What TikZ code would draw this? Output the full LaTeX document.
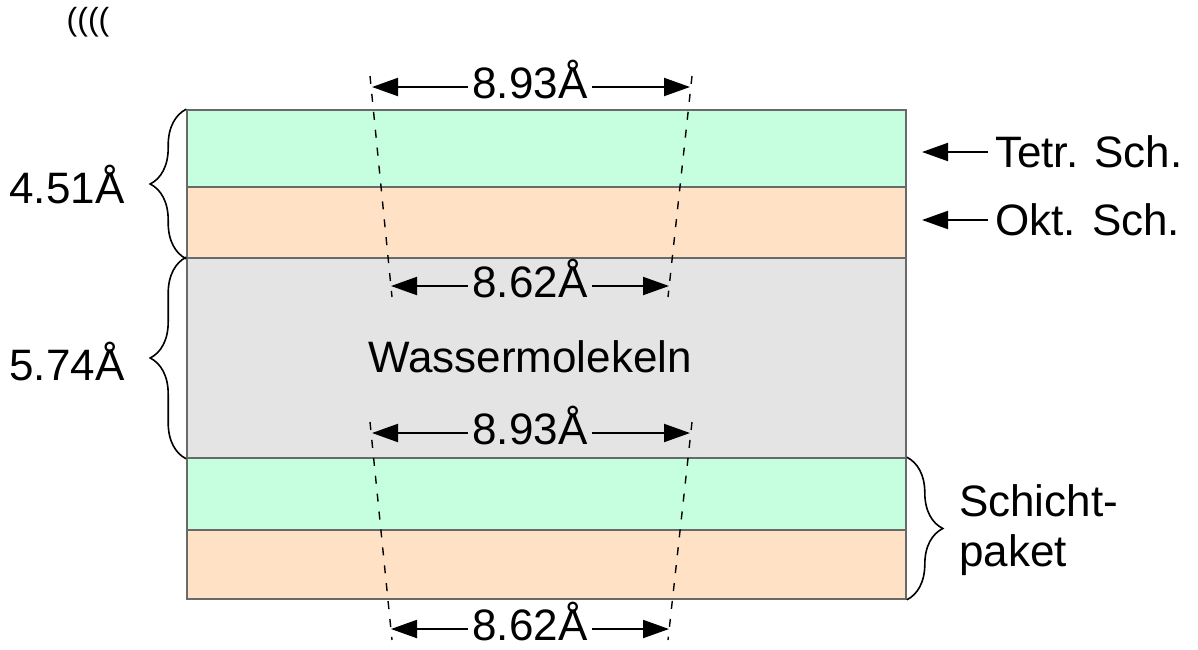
\documentclass[tikz,border=0pt]{standalone}
\usepackage{fontspec}
\setmainfont{Liberation Sans}
\usetikzlibrary{arrows.meta,decorations.pathreplacing}

\definecolor{tetgreen}{RGB}{198,254,224}
\definecolor{oktorange}{RGB}{255,226,198}
\definecolor{watergray}{RGB}{228,228,228}
\definecolor{edgegray}{RGB}{105,105,105}

\begin{document}
\begin{tikzpicture}[
  x=0.5pt, y=-0.5pt,
  font=\fontsize{22}{25}\selectfont,
  >={Triangle[length=13pt,width=9pt]},
  layer/.style={rectangle, draw=edgegray, line width=0.8pt, minimum width=359.5pt, inner sep=0pt},
  dim/.style={inner sep=0pt, anchor=base},
  dimline/.style={->, line width=1pt},
  guide/.style={line width=0.7pt, dash pattern=on 4pt off 5pt},
  brc/.style={decorate, decoration={brace, amplitude=18pt, aspect=0.5}, line width=0.8pt},
]
\useasboundingbox (0,0) rectangle (1198,649);

% layer stack
\node[layer, fill=tetgreen, minimum height=38.5pt] (t1) at (546.5,148.5) {};
\node[layer, fill=oktorange, minimum height=35.5pt] (o1) at (546.5,222.5) {};
\node[layer, fill=watergray, minimum height=100pt] (w) at (546.5,358) {};
\node[layer, fill=tetgreen, minimum height=36pt] (t2) at (546.5,494) {};
\node[layer, fill=oktorange, minimum height=34.5pt] (o2) at (546.5,564.5) {};

\node at (530,357) (wlab) {Wassermolekeln};
\node[font=\fontsize{16}{18}\selectfont] (marks) at (88,22) {((((};

% dashed guides
\coordinate (g1) at (370,76);
\coordinate (g2) at (392,297);
\coordinate (g3) at (692,76);
\coordinate (g4) at (668,297);
\coordinate (g5) at (370,422);
\coordinate (g6) at (392,640);
\coordinate (g7) at (692,422);
\coordinate (g8) at (668,640);
\draw[guide] (g1) -- (g2);
\draw[guide] (g3) -- (g4);
\draw[guide] (g5) -- (g6);
\draw[guide] (g7) -- (g8);

% distances
\node[dim] (d1) at (530,98) {8.93Å};
\node[dim] (d2) at (530,297) {8.62Å};
\node[dim] (d3) at (530,444) {8.93Å};
\node[dim] (d4) at (530,640) {8.62Å};
\coordinate (e1l) at (372,87);  \coordinate (e1r) at (690,87);
\coordinate (e2l) at (391,286); \coordinate (e2r) at (669,286);
\coordinate (e3l) at (372,433); \coordinate (e3r) at (690,433);
\coordinate (e4l) at (391,629); \coordinate (e4r) at (669,629);
\foreach \i in {1,2,3,4}{
  \draw[dimline] ([xshift=-2pt]d\i.west |- e\i l) -- (e\i l);
  \draw[dimline] ([xshift=2pt]d\i.east |- e\i r) -- (e\i r);
}

% braces
\draw[brc] (o1.south west) -- (t1.north west);
\draw[brc] (w.south west) -- (w.north west);
\draw[brc] (t2.north east) -- (o2.south east);
\node (h1) at (67,185) {4.51Å};
\node (h2) at (67,362) {5.74Å};
\node[anchor=west, align=left] (pk) at (952,530) {Schicht-\\paket};

% sheet labels
\node[anchor=west] (tet) at (988,152) {Tetr. Sch.};
\node[anchor=west] (okt) at (988,220) {Okt. Sch.};
\coordinate (tp) at (922,152);
\coordinate (op) at (922,220);
\draw[dimline] (tet.west) -- (tp);
\draw[dimline] (okt.west) -- (op);
\end{tikzpicture}
\end{document}
